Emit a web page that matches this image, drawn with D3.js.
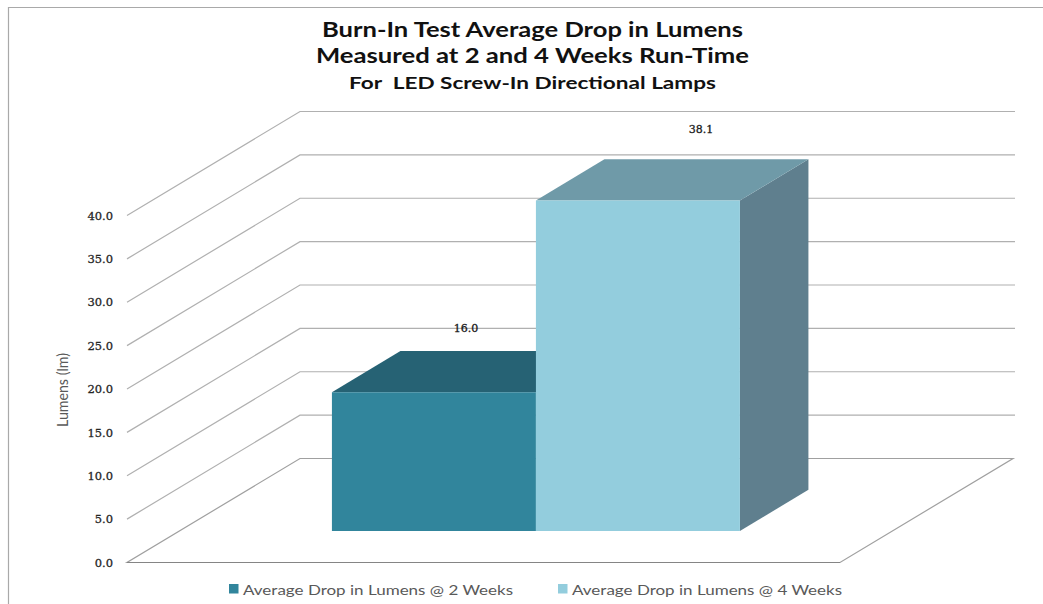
<!DOCTYPE html>
<html>
<head>
<meta charset="utf-8">
<script src="https://cdn.jsdelivr.net/npm/d3@7"></script>
<style>
  html, body { margin: 0; padding: 0; background: #fff; }
  svg { display: block; }
</style>
</head>
<body>
<svg id="chart" width="1043" height="604"></svg>
<script>
// Chart values
const categories = ["Average Drop in Lumens @ 2 Weeks", "Average Drop in Lumens @ 4 Weeks"];
const values = [16.0, 38.1];
const valueLabels = ["16.0", "38.1"];
const tickValues = [0, 5, 10, 15, 20, 25, 30, 35, 40];
const titleLines = [
  "Burn-In Test Average Drop in Lumens",
  "Measured at 2 and 4 Weeks Run-Time",
  "For  LED Screw-In Directional Lamps"
];
const axisTitle = "Lumens (lm)";

// Series colours: front, top and side faces
const frontColors = ["#31859c", "#93cddd"];
const topColors = ["#266274", "#6f9aa8"];
const sideColors = ["#21505f", "#5f7f8e"];

const svg = d3.select("#chart");
const font = "Lato, 'Open Sans', sans-serif";
const numberFont = "'DejaVu Serif', serif";

// Oblique projection of the plot box
const depthX = 173, depthY = -104;
const y = d3.scaleLinear().domain([0, 40]).range([562.5, 215.5]);
const x = d3.scaleBand().domain(categories).range([127, 840]).paddingInner(0).paddingOuter(0.7476);
const project = (px, value, depth) => [px + depth * depthX, y(value) + depth * depthY];
const pathOf = pts => "M" + pts.map(p => p.join(",")).join("L") + "Z";

// Outer frame: only top and left edges are inside the canvas
svg.append("path")
  .attr("d", "M1043,7.5H8.5V604")
  .attr("fill", "none").attr("stroke", "#a9a9a9").attr("stroke-width", 1.2);

// Wall gridlines, running along the side wall and then across the back
const gridG = svg.append("g").attr("fill", "none");
gridG.selectAll("path").data(tickValues.filter(d => d > 0)).join("path")
  .attr("d", d => d3.line()([project(127, d, 0), project(127, d, 1), project(842, d, 1)]))
  .attr("stroke", "#b0b0b0").attr("stroke-width", 1.2);

// Floor outline, with a darker front edge
svg.append("path")
  .attr("d", pathOf([project(127, 0, 0), project(840, 0, 0), project(840, 0, 1), project(127, 0, 1)]))
  .attr("fill", "none").attr("stroke", "#a0a0a0").attr("stroke-width", 1.2);
svg.append("path")
  .attr("d", d3.line()([project(127, 0, 0), project(840, 0, 0)]))
  .attr("fill", "none").attr("stroke", "#858585").attr("stroke-width", 1.2);

// Bars stand on the floor between these two depths
const depthFront = 0.303, depthBack = 0.699;
const bars = svg.append("g");
categories.forEach((c, i) => {
  const x0 = x(c), x1 = x0 + x.bandwidth(), v = values[i];
  bars.append("path").attr("fill", sideColors[i]).attr("d", pathOf([
    project(x1, 0, depthFront), project(x1, 0, depthBack),
    project(x1, v, depthBack), project(x1, v, depthFront)]));
  bars.append("path").attr("fill", topColors[i]).attr("d", pathOf([
    project(x0, v, depthFront), project(x0, v, depthBack),
    project(x1, v, depthBack), project(x1, v, depthFront)]));
  bars.append("path").attr("fill", frontColors[i]).attr("d", pathOf([
    project(x0, 0, depthFront), project(x1, 0, depthFront),
    project(x1, v, depthFront), project(x0, v, depthFront)]));
});

// Value labels float above the bar tops
const labelDepth = [0.488, 0.668], labelLift = [41, 29.5];
svg.append("g").selectAll("text").data(values).join("text")
  .attr("x", (d, i) => project(x(categories[i]) + x.bandwidth() / 2, d, labelDepth[i])[0])
  .attr("y", (d, i) => project(0, d, labelDepth[i])[1] - labelLift[i])
  .attr("text-anchor", "middle")
  .attr("font-family", numberFont).attr("font-size", 11).attr("fill", "#1a1a1a")
  .attr("stroke", "#1a1a1a").attr("stroke-width", 0.3)
  .text((d, i) => valueLabels[i]);

// Value axis, numbers only
const axis = svg.append("g").attr("transform", "translate(127,0)")
  .call(d3.axisLeft(y).tickValues(tickValues).tickSize(0).tickPadding(14).tickFormat(d3.format(".1f")));
axis.select(".domain").remove();
axis.selectAll("text")
  .attr("font-family", numberFont).attr("font-size", 11.5).attr("fill", "#262626")
  .attr("stroke", "#262626").attr("stroke-width", 0.3);

// Axis title
svg.append("text")
  .attr("transform", "translate(68,390) rotate(-90)")
  .attr("text-anchor", "middle")
  .attr("font-family", font).attr("font-size", 16).attr("fill", "#595959")
  .attr("textLength", 74).attr("lengthAdjust", "spacingAndGlyphs")
  .text(axisTitle);

// Three-line heading, stretched to the wide lettering of the chart
const titleY = [37, 63, 89], titleSize = [20.5, 20.5, 17.5], titleWidth = [421, 433, 367];
svg.append("g").selectAll("text").data(titleLines).join("text")
  .attr("x", 532.5).attr("y", (d, i) => titleY[i])
  .attr("text-anchor", "middle")
  .attr("font-family", font).attr("font-weight", 700)
  .attr("font-size", (d, i) => titleSize[i]).attr("fill", "#111")
  .attr("textLength", (d, i) => titleWidth[i]).attr("lengthAdjust", "spacingAndGlyphs")
  .style("white-space", "pre")
  .text(d => d);

// Legend
const legendX = [229, 558];
const legend = svg.append("g").selectAll("g").data(categories).join("g")
  .attr("transform", (d, i) => `translate(${legendX[i]},0)`);
legend.append("rect").attr("y", 584).attr("width", 9.5).attr("height", 9.5)
  .attr("fill", (d, i) => frontColors[i]);
legend.append("text").attr("x", 14).attr("y", 595)
  .attr("font-family", font).attr("font-size", 14).attr("fill", "#595959")
  .attr("textLength", 270).attr("lengthAdjust", "spacingAndGlyphs")
  .text(d => d);
</script>
</body>
</html>
